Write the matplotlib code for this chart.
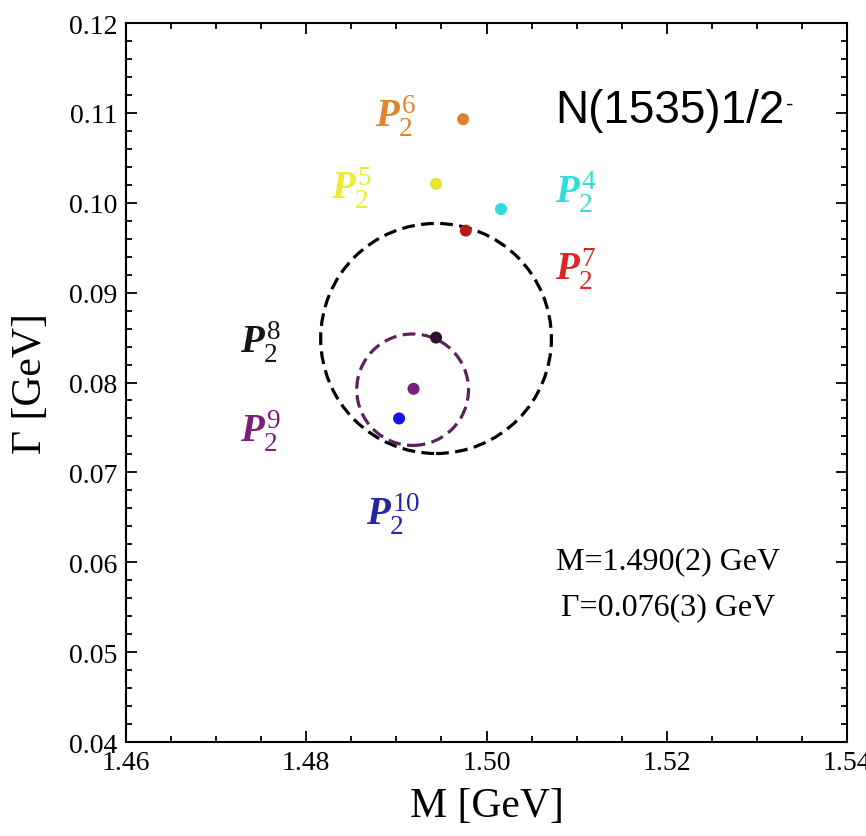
import matplotlib
matplotlib.use('Agg')
import matplotlib.pyplot as plt
from matplotlib.patches import Circle
from matplotlib.ticker import MultipleLocator

# pole positions
labels = ['4', '5', '6', '7', '8', '9', '10']
mass = [1.5016, 1.4944, 1.4974, 1.4977, 1.4944, 1.4919, 1.4903]
width = [0.0993, 0.1021, 0.1093, 0.0969, 0.0850, 0.0793, 0.0760]
dot_colors = ['#33dcdc', '#e6e62a', '#e0822c', '#b41c1c', '#301030', '#7a1f7a', '#1414e0']
text_colors = ['#33dcdc', '#ecec30', '#e0842c', '#e02424', '#151515', '#7a1f7a', '#2424a8']
# label positions (M, Gamma)
label_x = [1.5099, 1.4850, 1.4899, 1.5099, 1.4749, 1.4749, 1.4897]
label_y = [0.1013, 0.1017, 0.1097, 0.0927, 0.0846, 0.0747, 0.0654]

# dashed circles: centre (M, Gamma) and radius
big_circle = (1.4944, 0.0849, 0.0128)
small_circle = (1.4918, 0.0792, 0.0062)

plt.rcParams['font.family'] = 'Liberation Serif'
plt.rcParams['mathtext.fontset'] = 'custom'
plt.rcParams['mathtext.rm'] = 'Liberation Serif'
plt.rcParams['mathtext.it'] = 'Liberation Serif:italic:bold'
plt.rcParams['mathtext.bf'] = 'Liberation Serif:bold'

fig = plt.figure(figsize=(8.66, 8.37), dpi=100)
ax = fig.add_axes([0.1455, 0.1123, 0.8326, 0.859])

cx, cy, r = big_circle
ax.add_patch(Circle((cx, cy), r, fill=False, ls=(0, (4, 2)), lw=2.3, color='black', zorder=2))
cx, cy, r = small_circle
ax.add_patch(Circle((cx, cy), r, fill=False, ls=(0, (4, 2)), lw=2.3, color='#5e205e', zorder=2))

ax.scatter(mass, width, s=75, c=dot_colors, zorder=3, edgecolors='none')

for lab, lx, ly, col in zip(labels, label_x, label_y, text_colors):
    ax.text(lx, ly, r'$P_2^{%s}$' % lab, color=col, fontsize=28,
            ha='center', va='center')

t = ax.text(1.5076, 0.1103, 'N(1535)1/2', family='Liberation Sans',
            fontsize=33, ha='left', va='center')
ax.annotate('-', xy=(1, 1), xycoords=t, xytext=(1, -4), textcoords='offset points',
            family='Liberation Sans', fontsize=16, ha='left', va='top')

ax.text(1.5201, 0.0602, 'M=1.490(2) GeV', fontsize=23, ha='center', va='center')
ax.text(1.5201, 0.0551, 'Γ=0.076(3) GeV', fontsize=23, ha='center', va='center')

ax.set_xlim(1.46, 1.54)
ax.set_ylim(0.04, 0.12)
ax.set_xticks([1.46, 1.48, 1.50, 1.52, 1.54])
ax.set_xticklabels(['1.46', '1.48', '1.50', '1.52', '1.54'])
ax.set_yticks([0.04, 0.05, 0.06, 0.07, 0.08, 0.09, 0.10, 0.11, 0.12])
ax.set_yticklabels(['0.04', '0.05', '0.06', '0.07', '0.08', '0.09', '0.10', '0.11', '0.12'])
ax.xaxis.set_minor_locator(MultipleLocator(0.005))
ax.yaxis.set_minor_locator(MultipleLocator(0.002))
ax.tick_params(which='both', direction='in', top=True, right=True, width=1.3, labelsize=20, pad=6)
ax.tick_params(which='major', length=8)
ax.tick_params(which='minor', length=4.5)
for s in ax.spines.values():
    s.set_linewidth(1.5)

ax.set_xlabel('M [GeV]', fontsize=30, labelpad=8)
ax.set_ylabel('Γ [GeV]', fontsize=30, labelpad=14)

fig.savefig('out.png', dpi=100)
